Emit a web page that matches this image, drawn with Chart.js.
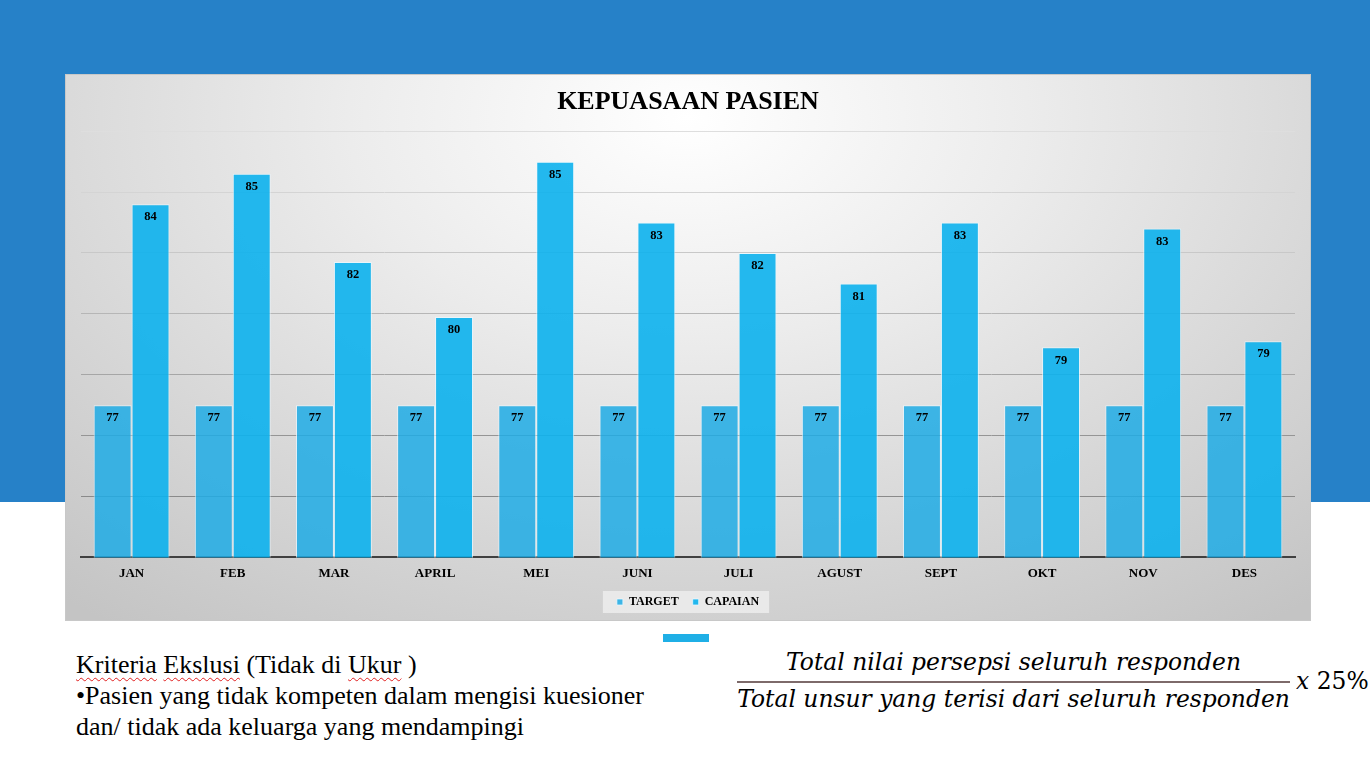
<!DOCTYPE html>
<html>
<head>
<meta charset="utf-8">
<script src="https://cdn.jsdelivr.net/npm/chart.js@4"></script>
<style>
  html, body { margin:0; padding:0; }
  body { width:1370px; height:766px; position:relative; background:#ffffff; overflow:hidden; }
  #topband { position:absolute; left:0; top:0; width:1370px; height:502px; background:#2681c8; }
  #chartbox { position:absolute; left:65px; top:74px; width:1246px; height:547px;
    background: radial-gradient(ellipse 78% 115% at 50% 8%, #ffffff 0%, #ececec 35%, #d6d6d6 70%, #c4c4c4 100%);
    box-shadow: inset 0 0 0 1px #c8c8c8; }
  #chartbox canvas { position:absolute; left:0; top:0; }
  #accent { position:absolute; left:663px; top:634px; width:46px; height:8px; background:#1fafe6; }
  #notes { position:absolute; left:76px; top:649px; font-family:"Liberation Serif", serif; font-size:26px; line-height:31px; color:#000; white-space:nowrap; }
  .sp { text-decoration: underline wavy #e02020; text-underline-offset: 4px; text-decoration-thickness: 1px; }
  #formula { position:absolute; left:737px; top:646px; width:634px; height:74px; font-family:"DejaVu Serif", serif; font-style:italic; font-size:23.4px; line-height:28px; color:#000; }
  #num { position:absolute; left:0; width:553px; top:2px; text-align:center; white-space:nowrap; }
  #bar { position:absolute; left:0; top:35px; width:553px; height:2px; background:#7d6a6a; }
  #den { position:absolute; left:0; width:553px; top:39px; text-align:center; white-space:nowrap; }
  #mult { position:absolute; left:559px; top:21px; white-space:nowrap; }
  #mult .n { font-style:normal; }
</style>
</head>
<body>
<div id="topband"></div>
<div id="chartbox"><canvas id="c" width="1246" height="547"></canvas></div>
<div id="accent"></div>
<div id="notes">
  <div><span class="sp">Kriteria</span> <span class="sp">Ekslusi</span> (Tidak di <span class="sp">Ukur</span> )</div>
  <div>&#8226;Pasien yang tidak kompeten dalam mengisi kuesioner</div>
  <div>dan/ tidak ada keluarga yang mendampingi</div>
</div>
<div id="formula">
  <div id="num">Total nilai persepsi seluruh responden</div>
  <div id="bar"></div>
  <div id="den">Total unsur yang terisi dari seluruh responden</div>
  <div id="mult">x <span class="n">25%</span></div>
</div>
<script>
const categories = ["JAN","FEB","MAR","APRIL","MEI","JUNI","JULI","AGUST","SEPT","OKT","NOV","DES"];
const targetValues = [77,77,77,77,77,77,77,77,77,77,77,77];
const capaianValues = [83.6,84.6,81.7,79.9,85.0,83.0,82.0,81.0,83.0,78.9,82.8,79.1];
const seriesNames = ["TARGET","CAPAIAN"];
const chartTitle = "KEPUASAAN PASIEN";
const yMin = 72, yMax = 86, yStep = 2;

const gridColors = {74:"#8a8a8a",76:"#959595",78:"#a6a6a6",80:"#b6b6b6",82:"#c8c8c8",84:"#d4d4d4",86:"#dedede"};

const labelPlugin = {
  id: "barLabels",
  afterDatasetsDraw(chart) {
    const ctx = chart.ctx;
    ctx.save();
    ctx.font = "bold 12.5px 'Liberation Serif', serif";
    ctx.fillStyle = "#000";
    ctx.textAlign = "center";
    ctx.textBaseline = "middle";
    chart.data.datasets.forEach((ds, i) => {
      const meta = chart.getDatasetMeta(i);
      meta.data.forEach((bar, j) => {
        ctx.fillText(String(Math.round(ds.data[j])), bar.x, bar.y + 13);
      });
    });
    ctx.restore();
  }
};

const legendBgPlugin = {
  id: "legendBg",
  beforeDraw(chart) {
    const lg = chart.legend;
    if (!lg || !lg.legendHitBoxes || !lg.legendHitBoxes.length) return;
    const hb = lg.legendHitBoxes;
    const x0 = hb[0].left - 14, x1 = hb[hb.length-1].left + hb[hb.length-1].width + 10;
    const cy = hb[0].top + hb[0].height / 2;
    const ctx = chart.ctx;
    ctx.save();
    ctx.fillStyle = "rgba(240,240,240,0.75)";
    ctx.fillRect(x0, cy - 11, x1 - x0, 22);
    ctx.restore();
  }
};

new Chart(document.getElementById("c"), {
  type: "bar",
  data: {
    labels: categories,
    datasets: [
      { label: seriesNames[0], data: targetValues, backgroundColor: "rgba(31,172,229,0.85)",
        borderColor: "rgba(235,248,255,0.75)", borderWidth: 1, categoryPercentage: 0.75, barPercentage: 1.0 },
      { label: seriesNames[1], data: capaianValues, backgroundColor: "rgba(12,177,237,0.9)",
        borderColor: "rgba(235,248,255,0.75)", borderWidth: 1, categoryPercentage: 0.75, barPercentage: 1.0 }
    ]
  },
  options: {
    responsive: false,
    animation: false,
    devicePixelRatio: 1,
    layout: { padding: { left: 16, right: 16, top: 0, bottom: 3 } },
    scales: {
      x: {
        grid: { display: false, drawTicks: false },
        border: { display: true, color: "#404040", width: 2 },
        ticks: { color: "#000", font: { family: "'Liberation Serif', serif", size: 13, weight: "bold" }, padding: 8, maxRotation: 0 },
        afterFit: (s) => { s.height = 24.6; }
      },
      y: {
        min: yMin, max: yMax,
        ticks: { display: false, stepSize: yStep },
        border: { display: false },
        grid: { drawTicks: false, lineWidth: 1, color: (c) => gridColors[c.tick && c.tick.value] || "rgba(0,0,0,0)" }
      }
    },
    plugins: {
      title: { display: true, text: chartTitle, color: "#000",
        font: { family: "'Liberation Serif', serif", size: 26, weight: "bold" },
        padding: { top: 13, bottom: 13 } },
      legend: { position: "bottom",
        labels: { color: "#000", boxWidth: 6, boxHeight: 6, padding: 14,
          font: { family: "'Liberation Serif', serif", size: 12, weight: "bold" } } },
      tooltip: { enabled: false }
    }
  },
  plugins: [legendBgPlugin, labelPlugin]
});
</script>
</body>
</html>
